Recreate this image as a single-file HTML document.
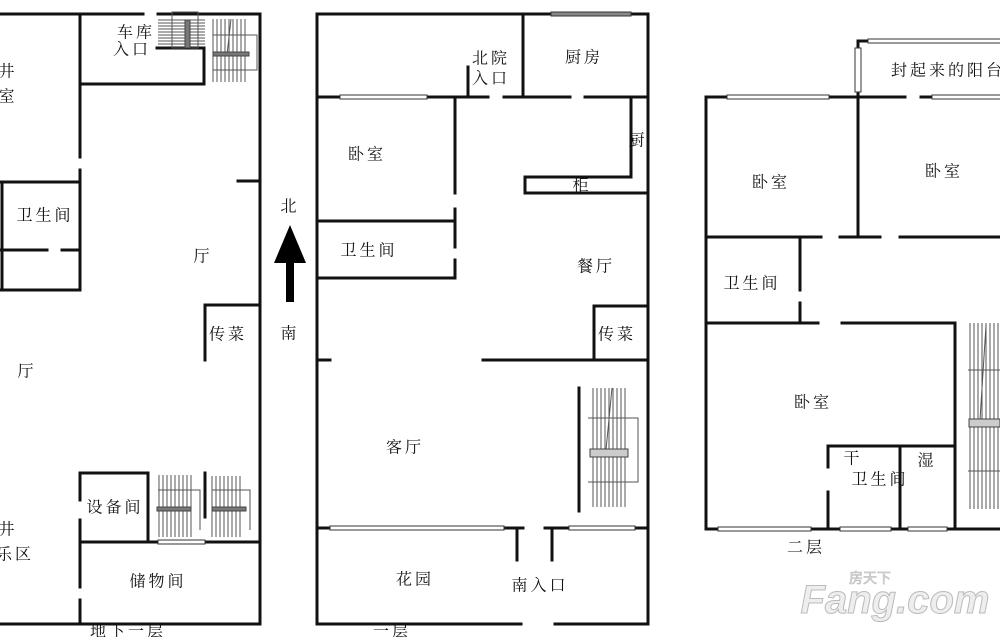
<!DOCTYPE html>
<html><head><meta charset="utf-8"><style>
html,body{margin:0;padding:0;background:#fff;}
svg{display:block;}
text{font-family:"Liberation Serif","Noto Serif CJK SC","Noto Sans CJK SC",serif;font-size:16px;fill:#111;text-anchor:middle;dominant-baseline:central;letter-spacing:3px;}
</style></head><body>
<svg width="1000" height="637" viewBox="0 0 1000 637" xmlns="http://www.w3.org/2000/svg">
<g stroke="#111" stroke-width="3" fill="none" stroke-linecap="square">
<!-- Basement -->
<path d="M0 14H143M158 14H260V624H0"/>
<path d="M80 14V157M80 170V290"/>
<path d="M80 84H204V48H157"/>
<path d="M0 182H80M2 182V290M0 250H47M62 250H80M0 290H80"/>
<path d="M238 181H260"/>
<path d="M205 360V305H260"/>
<path d="M80 473H148V542M80 473V500M80 520V587M80 600V624M80 542H260"/>
<path d="M205 473V517"/>
<!-- Ground floor -->
<path d="M317 14H648V624H555M521 624H317V14"/>
<path d="M523 14V97"/>
<path d="M317 97H488M504 97H570M585 97H648"/>
<path d="M468 67V97"/>
<path d="M455 97V193M455 209V247M455 260V278"/>
<path d="M317 221H455M317 278H455"/>
<path d="M631 97V177H525V193H648"/>
<path d="M594 360V306H648"/>
<path d="M317 360H330M483 360H648"/>
<path d="M579 388V511"/>
<path d="M317 528H523M545 528H648"/>
<path d="M517 528V560M552 528V560"/>
<!-- Second floor -->
<path d="M706 97H905M921 97H1000"/>
<path d="M706 97V529H1000"/>
<path d="M858 41H1000M858 41V237"/>
<path d="M706 237H821M840 237H880M900 237H1000"/>
<path d="M800 237V290M800 303V323"/>
<path d="M706 323H818M842 323H955V529"/>
<path d="M828 446H953M828 446V467M828 492V529M900 446V529"/>
</g>
<!-- windows -->
<g stroke="#333" stroke-width="1" fill="#fff">
<rect x="551" y="12" width="80" height="4" fill="#888"/>
<rect x="340" y="95" width="87" height="4"/>
<rect x="330" y="526" width="174" height="4"/>
<rect x="569" y="526" width="66" height="4"/>
<rect x="158" y="540" width="47" height="4"/>
<rect x="727" y="95" width="102" height="4"/>
<rect x="932" y="95" width="70" height="4"/>
<rect x="868" y="39" width="134" height="4"/>
<rect x="855" y="48" width="6" height="44"/>
<rect x="718" y="527" width="93" height="4"/>
<rect x="840" y="527" width="51" height="4"/>
<rect x="908" y="527" width="39" height="4"/>
</g>
<!-- stairs -->
<g stroke="#555" stroke-width="1" fill="none">
<path d="M158 20H205M158 23H205M158 26H205M158 29H205M158 32H205M158 35H205M158 38H205M158 41H205M158 44H205"/>
<rect x="172" y="12" width="26" height="36"/>
<path d="M213 19V82M217 19V82M221 19V82M225 19V82M229 19V82M233 19V82M237 19V82M241 19V82M245 19V82M213 35H257V70H213"/>
<path d="M231 19L227 55"/>
<path d="M159 475V537M163 475V537M167 475V537M171 475V537M175 475V537M179 475V537M183 475V537M187 475V537M191 475V537M158 490H200V530"/>
<path d="M212 476V537M216 476V537M220 476V537M224 476V537M228 476V537M232 476V537M236 476V537M240 476V537M212 490H250V530"/>
<path d="M593 388V507M597 388V507M601 388V507M605 388V507M609 388V507M613 388V507M617 388V507M621 388V507M625 388V507M588 418H638V482H588"/>
<path d="M612 388L606 450"/>
<path d="M970 323V509M974 323V509M978 323V509M982 323V509M986 323V509M990 323V509M994 323V509M998 323V509M968 370H1000M968 471H1000"/>
<path d="M986 325L980 420"/>
</g>
<g fill="#777" stroke="#444" stroke-width="1">
<rect x="185" y="20" width="5" height="28"/>
<rect x="213" y="52" width="36" height="4"/>
<rect x="157" y="507" width="34" height="4"/>
<rect x="212" y="507" width="34" height="4"/>
<rect x="590" y="449" width="38" height="8" fill="#ccc"/>
<rect x="969" y="419" width="31" height="8" fill="#ccc"/>
</g>
<!-- north arrow -->
<path d="M290 225L306 263H294V302H286V263H274Z" fill="#000"/>
<!-- labels -->
<text x="8" y="72">井</text><text x="8" y="97">室</text>
<text x="136" y="33">车库</text><text x="132" y="50">入口</text>
<text x="45" y="216">卫生间</text>
<text x="203" y="257">厅</text>
<text x="228" y="335">传菜</text>
<text x="27" y="372">厅</text>
<text x="115" y="508">设备间</text>
<text x="8" y="530">井</text><text x="15" y="555">乐区</text>
<text x="158" y="582">储物间</text>
<text x="128" y="632">地下一层</text>
<text x="290" y="207">北</text><text x="290" y="334">南</text>
<text x="367" y="155">卧室</text>
<text x="369" y="251">卫生间</text>
<text x="491" y="59">北院</text><text x="491" y="79">入口</text>
<text x="584" y="58">厨房</text>
<text x="638" y="141">厨</text>
<text x="582" y="186">柜</text>
<text x="596" y="267">餐厅</text>
<text x="617" y="335">传菜</text>
<text x="405" y="448">客厅</text>
<text x="415" y="580">花园</text>
<text x="540" y="586">南入口</text>
<text x="392" y="632">一层</text>
<text x="948" y="71">封起来的阳台</text>
<text x="771" y="183">卧室</text>
<text x="944" y="172">卧室</text>
<text x="752" y="284">卫生间</text>
<text x="813" y="403">卧室</text>
<text x="853" y="459">干</text>
<text x="927" y="461">湿</text>
<text x="880" y="480">卫生间</text>
<text x="806" y="548">二层</text>
<!-- watermark -->
<text x="870" y="578" style="font-size:14px;fill:#ddd;font-family:'Liberation Sans','Noto Sans CJK SC',sans-serif;stroke:#bbb;stroke-width:0.6;letter-spacing:0">房天下</text>
<text x="895" y="600" style="font-size:40px;font-weight:bold;font-style:italic;fill:#eee;stroke:#bbb;stroke-width:1;font-family:'Liberation Sans',sans-serif;letter-spacing:0">Fang.com</text>
</svg>
</body></html>
